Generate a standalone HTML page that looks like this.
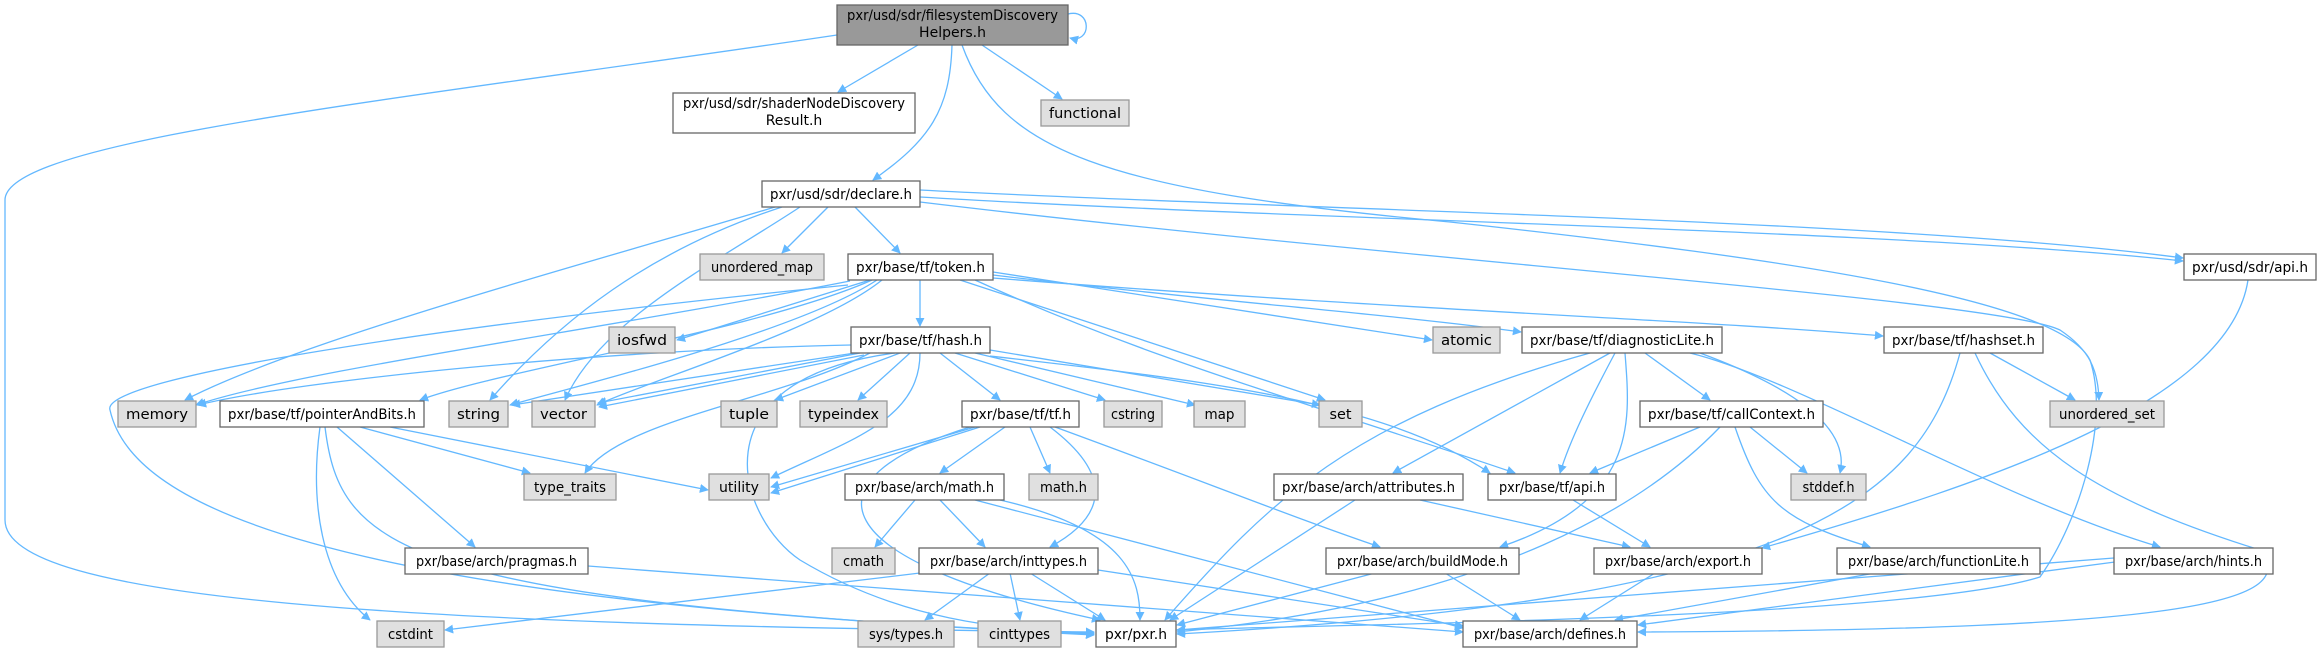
<!DOCTYPE html>
<html><head><meta charset="utf-8"><style>
html,body{margin:0;padding:0;background:#fff;}
svg{display:block;}
text{font-family:"DejaVu Sans","Liberation Sans",sans-serif;font-size:14px;fill:#000;}
.e{fill:none;stroke:#63b8ff;stroke-width:1.3;marker-end:url(#a);}
.n{fill:#fff;stroke:#666;stroke-width:1.3;}
.g{fill:#e0e0e0;stroke:#999;stroke-width:1.3;}
</style></head><body>
<svg width="2321" height="652" viewBox="0 0 2321 652" xmlns="http://www.w3.org/2000/svg">
<defs><marker id="a" viewBox="0 0 10 10" refX="9" refY="5" markerWidth="9" markerHeight="9" markerUnits="userSpaceOnUse" orient="auto"><path d="M0,0 L10,5 L0,10 z" fill="#63b8ff"/></marker></defs>
<g>
<path class="e" d="M1068,14 C1092,8 1092,44 1070,38"/>
<path class="e" d="M837,35 C400,100 5,140 5,200 L5,520 C5,600 400,625 1094,632"/>
<path class="e" d="M918,45 L838,92"/>
<path class="e" d="M952,45 C950,110 930,140 873,180"/>
<path class="e" d="M982,45 L1062,99"/>
<path class="e" d="M962,45 C1000,150 1100,190 1450,222 C1800,260 2060,300 2090,360 C2110,420 2080,520 2040,577 C1900,620 1300,625 1177,630"/>
<path class="e" d="M920,190 C1300,210 1900,220 2183,258"/>
<path class="e" d="M920,197 C1300,220 1900,230 2183,261"/>
<path class="e" d="M920,202 C1400,260 2000,300 2060,330 C2090,350 2098,370 2099,400"/>
<path class="e" d="M775,207 C600,260 300,340 185,400"/>
<path class="e" d="M782,207 C650,250 560,320 490,400"/>
<path class="e" d="M800,207 C720,260 600,320 565,400"/>
<path class="e" d="M828,207 L782,253"/>
<path class="e" d="M855,207 L900,253"/>
<path class="e" d="M870,280 L677,340"/>
<path class="e" d="M920,280 L920,326"/>
<path class="e" d="M850,281 C600,330 300,370 196,405"/>
<path class="e" d="M872,280 C760,330 500,370 420,400"/>
<path class="e" d="M877,280 C800,330 600,380 510,405"/>
<path class="e" d="M882,280 C820,330 650,380 597,405"/>
<path class="e" d="M848,285 C400,330 100,380 110,410 C130,500 300,600 1094,634"/>
<path class="e" d="M993,272 L1432,340"/>
<path class="e" d="M993,275 C1200,300 1400,315 1521,332"/>
<path class="e" d="M993,278 C1400,310 1700,320 1883,336"/>
<path class="e" d="M960,280 L1325,400"/>
<path class="e" d="M975,280 C1150,360 1300,400 1515,473"/>
<path class="e" d="M851,345 C600,350 300,380 198,405"/>
<path class="e" d="M855,353 L512,405"/>
<path class="e" d="M860,353 L598,403"/>
<path class="e" d="M864,355 L599,407"/>
<path class="e" d="M900,353 L775,400"/>
<path class="e" d="M910,353 L858,400"/>
<path class="e" d="M940,353 L1000,400"/>
<path class="e" d="M955,353 L1105,400"/>
<path class="e" d="M975,353 L1195,405"/>
<path class="e" d="M990,350 L1320,405"/>
<path class="e" d="M920,353 C920,420 850,440 771,478"/>
<path class="e" d="M870,353 C780,400 620,420 585,473"/>
<path class="e" d="M895,353 C690,380 740,520 800,560 C900,620 1000,630 1094,633"/>
<path class="e" d="M990,356 C1200,380 1380,400 1490,473"/>
<path class="e" d="M360,427 L530,473"/>
<path class="e" d="M390,427 L708,490"/>
<path class="e" d="M337,427 L475,547"/>
<path class="e" d="M320,427 C310,500 320,580 370,620"/>
<path class="e" d="M325,427 C340,550 400,600 1094,635"/>
<path class="e" d="M975,427 L771,487"/>
<path class="e" d="M980,427 L771,493"/>
<path class="e" d="M1005,427 L940,473"/>
<path class="e" d="M1030,427 L1050,473"/>
<path class="e" d="M1050,427 C1120,480 1100,520 1050,547"/>
<path class="e" d="M1055,427 C1200,480 1300,520 1380,547"/>
<path class="e" d="M970,427 C800,480 820,560 1100,620"/>
<path class="e" d="M915,500 L875,547"/>
<path class="e" d="M940,500 L985,547"/>
<path class="e" d="M1000,500 C1130,530 1140,580 1140,620"/>
<path class="e" d="M975,500 L1463,628"/>
<path class="e" d="M920,573 L445,630"/>
<path class="e" d="M990,573 L925,620"/>
<path class="e" d="M1010,573 L1020,620"/>
<path class="e" d="M1030,573 L1105,620"/>
<path class="e" d="M1098,570 L1463,626"/>
<path class="e" d="M588,566 L1463,632"/>
<path class="e" d="M1590,353 C1350,420 1270,500 1165,620"/>
<path class="e" d="M1610,353 L1393,473"/>
<path class="e" d="M1615,353 C1590,400 1570,440 1560,473"/>
<path class="e" d="M1625,353 C1630,420 1640,500 1500,547"/>
<path class="e" d="M1645,353 L1710,400"/>
<path class="e" d="M1700,353 C1800,390 1850,430 1840,473"/>
<path class="e" d="M1690,353 C1800,380 2000,500 2160,547"/>
<path class="e" d="M1700,427 L1590,473"/>
<path class="e" d="M1720,427 C1650,500 1500,600 1177,632"/>
<path class="e" d="M1750,427 L1807,473"/>
<path class="e" d="M1735,427 C1760,500 1780,520 1870,547"/>
<path class="e" d="M1960,353 C1920,500 1800,600 1177,634"/>
<path class="e" d="M1990,353 L2075,400"/>
<path class="e" d="M1975,353 C2020,450 2100,500 2260,550 C2300,600 2200,630 1638,632"/>
<path class="e" d="M2248,280 C2230,400 2000,480 1762,548"/>
<path class="e" d="M1355,500 L1170,620"/>
<path class="e" d="M1420,500 L1630,547"/>
<path class="e" d="M1573,500 L1650,547"/>
<path class="e" d="M1375,573 L1177,625"/>
<path class="e" d="M1445,573 L1520,620"/>
<path class="e" d="M1655,573 L1580,620"/>
<path class="e" d="M1875,573 L1615,620"/>
<path class="e" d="M2115,562 L1638,625"/>
<path class="e" d="M2114,558 L1177,630"/>
</g>
<g>
<rect x="837" y="5" width="231" height="40" fill="#999" stroke="#666" stroke-width="1.3"/>
<text x="952.5" y="20" text-anchor="middle" textLength="211" lengthAdjust="spacingAndGlyphs">pxr/usd/sdr/filesystemDiscovery</text>
<text x="952.5" y="37" text-anchor="middle">Helpers.h</text>

<rect class="n" x="673" y="93" width="242" height="40"/>
<text x="794" y="108" text-anchor="middle" textLength="222" lengthAdjust="spacingAndGlyphs">pxr/usd/sdr/shaderNodeDiscovery</text>
<text x="794" y="125" text-anchor="middle">Result.h</text>

<rect class="g" x="1041" y="100" width="88" height="26"/><text x="1085" y="118" text-anchor="middle" textLength="72" lengthAdjust="spacingAndGlyphs">functional</text>
<rect class="n" x="762" y="181" width="158" height="26"/><text x="841" y="199" text-anchor="middle" textLength="142" lengthAdjust="spacingAndGlyphs">pxr/usd/sdr/declare.h</text>
<rect class="g" x="700" y="254" width="124" height="26"/><text x="762" y="272" text-anchor="middle" textLength="102" lengthAdjust="spacingAndGlyphs">unordered_map</text>
<rect class="n" x="848" y="254" width="145" height="26"/><text x="920.5" y="272" text-anchor="middle" textLength="129" lengthAdjust="spacingAndGlyphs">pxr/base/tf/token.h</text>
<rect class="n" x="2184" y="254" width="132" height="26"/><text x="2250" y="272" text-anchor="middle" textLength="116" lengthAdjust="spacingAndGlyphs">pxr/usd/sdr/api.h</text>

<rect class="g" x="609" y="327" width="66" height="26"/><text x="642" y="345" text-anchor="middle" textLength="50" lengthAdjust="spacingAndGlyphs">iosfwd</text>
<rect class="n" x="851" y="327" width="139" height="26"/><text x="920.5" y="345" text-anchor="middle" textLength="123" lengthAdjust="spacingAndGlyphs">pxr/base/tf/hash.h</text>
<rect class="g" x="1433" y="327" width="67" height="26"/><text x="1466.5" y="345" text-anchor="middle" textLength="51" lengthAdjust="spacingAndGlyphs">atomic</text>
<rect class="n" x="1522" y="327" width="200" height="26"/><text x="1622" y="345" text-anchor="middle" textLength="184" lengthAdjust="spacingAndGlyphs">pxr/base/tf/diagnosticLite.h</text>
<rect class="n" x="1884" y="327" width="159" height="26"/><text x="1963.5" y="345" text-anchor="middle" textLength="143" lengthAdjust="spacingAndGlyphs">pxr/base/tf/hashset.h</text>

<rect class="g" x="118" y="401" width="78" height="26"/><text x="157" y="419" text-anchor="middle" textLength="62" lengthAdjust="spacingAndGlyphs">memory</text>
<rect class="n" x="220" y="401" width="204" height="26"/><text x="322" y="419" text-anchor="middle" textLength="188" lengthAdjust="spacingAndGlyphs">pxr/base/tf/pointerAndBits.h</text>
<rect class="g" x="449" y="401" width="59" height="26"/><text x="478.5" y="419" text-anchor="middle" textLength="43" lengthAdjust="spacingAndGlyphs">string</text>
<rect class="g" x="532" y="401" width="63" height="26"/><text x="563.5" y="419" text-anchor="middle" textLength="47" lengthAdjust="spacingAndGlyphs">vector</text>
<rect class="g" x="721" y="401" width="56" height="26"/><text x="749" y="419" text-anchor="middle" textLength="40" lengthAdjust="spacingAndGlyphs">tuple</text>
<rect class="g" x="800" y="401" width="87" height="26"/><text x="843.5" y="419" text-anchor="middle" textLength="71" lengthAdjust="spacingAndGlyphs">typeindex</text>
<rect class="n" x="962" y="401" width="117" height="26"/><text x="1020.5" y="419" text-anchor="middle" textLength="101" lengthAdjust="spacingAndGlyphs">pxr/base/tf/tf.h</text>
<rect class="g" x="1104" y="401" width="58" height="26"/><text x="1133" y="419" text-anchor="middle" textLength="44" lengthAdjust="spacingAndGlyphs">cstring</text>
<rect class="g" x="1194" y="401" width="51" height="26"/><text x="1219.5" y="419" text-anchor="middle" textLength="30" lengthAdjust="spacingAndGlyphs">map</text>
<rect class="g" x="1319" y="401" width="43" height="26"/><text x="1340.5" y="419" text-anchor="middle" textLength="22" lengthAdjust="spacingAndGlyphs">set</text>
<rect class="n" x="1640" y="401" width="183" height="26"/><text x="1731.5" y="419" text-anchor="middle" textLength="167" lengthAdjust="spacingAndGlyphs">pxr/base/tf/callContext.h</text>
<rect class="g" x="2050" y="401" width="114" height="26"/><text x="2107" y="419" text-anchor="middle" textLength="96" lengthAdjust="spacingAndGlyphs">unordered_set</text>

<rect class="g" x="524" y="474" width="92" height="26"/><text x="570" y="492" text-anchor="middle" textLength="72" lengthAdjust="spacingAndGlyphs">type_traits</text>
<rect class="g" x="709" y="474" width="60" height="26"/><text x="739" y="492" text-anchor="middle" textLength="40" lengthAdjust="spacingAndGlyphs">utility</text>
<rect class="n" x="845" y="474" width="159" height="26"/><text x="924.5" y="492" text-anchor="middle" textLength="139" lengthAdjust="spacingAndGlyphs">pxr/base/arch/math.h</text>
<rect class="g" x="1029" y="474" width="69" height="26"/><text x="1063.5" y="492" text-anchor="middle" textLength="47" lengthAdjust="spacingAndGlyphs">math.h</text>
<rect class="n" x="1274" y="474" width="189" height="26"/><text x="1368.5" y="492" text-anchor="middle" textLength="173" lengthAdjust="spacingAndGlyphs">pxr/base/arch/attributes.h</text>
<rect class="n" x="1488" y="474" width="128" height="26"/><text x="1552" y="492" text-anchor="middle" textLength="106" lengthAdjust="spacingAndGlyphs">pxr/base/tf/api.h</text>
<rect class="g" x="1791" y="474" width="75" height="26"/><text x="1828.5" y="492" text-anchor="middle" textLength="52" lengthAdjust="spacingAndGlyphs">stddef.h</text>

<rect class="n" x="405" y="548" width="183" height="26"/><text x="496.5" y="566" text-anchor="middle" textLength="161" lengthAdjust="spacingAndGlyphs">pxr/base/arch/pragmas.h</text>
<rect class="g" x="832" y="548" width="63" height="26"/><text x="863.5" y="566" text-anchor="middle" textLength="41" lengthAdjust="spacingAndGlyphs">cmath</text>
<rect class="n" x="919" y="548" width="179" height="26"/><text x="1008.5" y="566" text-anchor="middle" textLength="157" lengthAdjust="spacingAndGlyphs">pxr/base/arch/inttypes.h</text>
<rect class="n" x="1326" y="548" width="193" height="26"/><text x="1422.5" y="566" text-anchor="middle" textLength="171" lengthAdjust="spacingAndGlyphs">pxr/base/arch/buildMode.h</text>
<rect class="n" x="1594" y="548" width="168" height="26"/><text x="1678" y="566" text-anchor="middle" textLength="146" lengthAdjust="spacingAndGlyphs">pxr/base/arch/export.h</text>
<rect class="n" x="1837" y="548" width="203" height="26"/><text x="1938.5" y="566" text-anchor="middle" textLength="181" lengthAdjust="spacingAndGlyphs">pxr/base/arch/functionLite.h</text>
<rect class="n" x="2114" y="548" width="159" height="26"/><text x="2193.5" y="566" text-anchor="middle" textLength="137" lengthAdjust="spacingAndGlyphs">pxr/base/arch/hints.h</text>

<rect class="g" x="377" y="621" width="67" height="26"/><text x="410.5" y="639" text-anchor="middle" textLength="45" lengthAdjust="spacingAndGlyphs">cstdint</text>
<rect class="g" x="858" y="621" width="96" height="26"/><text x="906" y="639" text-anchor="middle" textLength="74" lengthAdjust="spacingAndGlyphs">sys/types.h</text>
<rect class="g" x="978" y="621" width="83" height="26"/><text x="1019.5" y="639" text-anchor="middle" textLength="61" lengthAdjust="spacingAndGlyphs">cinttypes</text>
<rect class="n" x="1096" y="621" width="80" height="26"/><text x="1136" y="639" text-anchor="middle" textLength="62" lengthAdjust="spacingAndGlyphs">pxr/pxr.h</text>
<rect class="n" x="1463" y="621" width="174" height="26"/><text x="1550" y="639" text-anchor="middle" textLength="152" lengthAdjust="spacingAndGlyphs">pxr/base/arch/defines.h</text>
</g>
</svg>
</body></html>
